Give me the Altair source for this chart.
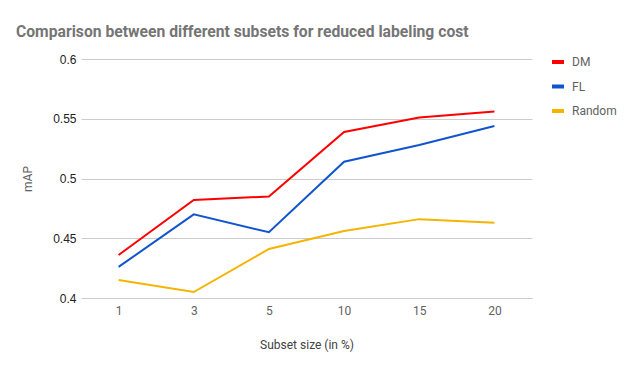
import altair as alt
import pandas as pd

sizes = ["1", "3", "5", "10", "15", "20"]
dm = [0.436, 0.482, 0.485, 0.539, 0.551, 0.556]
fl = [0.426, 0.470, 0.455, 0.514, 0.528, 0.544]
rnd = [0.415, 0.405, 0.441, 0.456, 0.466, 0.463]
series = ["DM", "FL", "Random"]
colors = ["#ff0000", "#1155cc", "#f4b400"]

rows = []
for name, vals in zip(series, [dm, fl, rnd]):
    for s, v in zip(sizes, vals):
        rows.append({"size": s, "value": v, "series": name})
df = pd.DataFrame(rows)

chart = alt.Chart(df).mark_line(strokeWidth=2).encode(
    x=alt.X("size:N", sort=sizes, title="Subset size (in %)",
            scale=alt.Scale(type="point", padding=0.5),
            axis=alt.Axis(labelAngle=0, labelFont="Roboto", labelFontSize=12,
                          labelColor="#616161", titleFont="Roboto",
                          titleFontSize=12, titleFontWeight="normal",
                          titleColor="#424242", titlePadding=23,
                          domainColor="#cccccc", ticks=False, labelPadding=7,
                          grid=False)),
    y=alt.Y("value:Q", title="mAP",
            scale=alt.Scale(domain=[0.4, 0.6], nice=False),
            axis=alt.Axis(values=[0.4, 0.45, 0.5, 0.55, 0.6],
                          labelExpr="format(datum.value, '.2~f')",
                          labelFont="Liberation Sans", labelFontSize=12,
                          labelColor="#222222", titleFont="Roboto",
                          titleFontSize=12, titleFontWeight="normal",
                          titleColor="#616161", titlePadding=18,
                          domain=False, ticks=False, labelPadding=5,
                          gridColor="#cccccc", gridWidth=1)),
    color=alt.Color("series:N", sort=series,
                    scale=alt.Scale(domain=series, range=colors),
                    legend=alt.Legend(title=None, orient="none",
                                      legendX=469, legendY=-5,
                                      symbolType="M-1,0H1", symbolSize=144,
                                      symbolStrokeWidth=4, labelFont="Roboto",
                                      labelFontSize=12, labelColor="#616161",
                                      rowPadding=8.5, labelOffset=6)),
).properties(
    width=451,
    height=239,
    title=alt.TitleParams(
        "Comparison between different subsets for reduced labeling cost",
        anchor="start", frame="group", font="Roboto", fontSize=15.7,
        fontWeight="bold", color="#757575", dx=-65, offset=16, dy=16,
        baseline="alphabetic"),
    autosize=alt.AutoSizeParams(type="none"),
    padding={"left": 73, "top": 51, "right": 97, "bottom": 65},
).configure_view(stroke=None)

chart.save("out.html", embed_options={"renderer": "svg", "actions": False})
